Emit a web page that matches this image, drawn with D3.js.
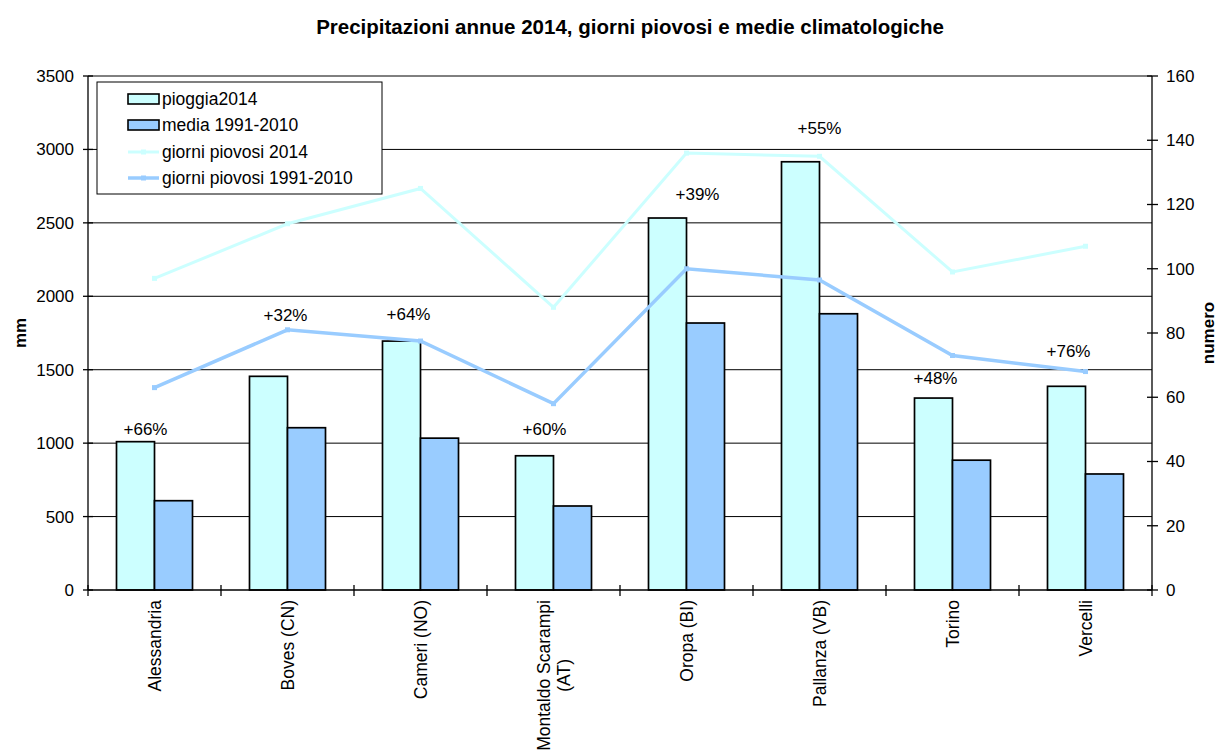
<!DOCTYPE html>
<html>
<head>
<meta charset="utf-8">
<script src="https://cdn.jsdelivr.net/npm/d3@7"></script>
<style>
  html, body { margin: 0; padding: 0; background: #fff; }
  svg { display: block; font-family: "Liberation Sans", Arial, sans-serif; }
</style>
</head>
<body>
<svg id="chart" width="1221" height="754"></svg>
<script>
// Stations and yearly values
const categories = ["Alessandria", "Boves (CN)", "Cameri (NO)", "Montaldo Scarampi (AT)",
                    "Oropa (BI)", "Pallanza (VB)", "Torino", "Vercelli"];
const rain2014 = [1010, 1455, 1695, 914, 2533, 2916, 1307, 1387];   // mm
const rainMean = [608, 1105, 1034, 572, 1818, 1881, 884, 790];      // mm, 1991-2010
const days2014 = [97, 114, 125, 88, 136, 135, 99, 107];             // rainy days 2014
const daysMean = [63, 81, 77.5, 58, 100, 96.5, 73, 68];             // rainy days 1991-2010

const mmTicks = [0, 500, 1000, 1500, 2000, 2500, 3000, 3500];
const dayTicks = [0, 20, 40, 60, 80, 100, 120, 140, 160];

const seriesNames = ["pioggia2014", "media 1991-2010", "giorni piovosi 2014", "giorni piovosi 1991-2010"];

const C_LIGHT = "#ccffff";
const C_DARK = "#99ccff";

const svg = d3.select("#chart");
const plot = { left: 88, right: 1152, top: 76, bottom: 590 };

const x = d3.scaleBand().domain(categories).range([plot.left, plot.right])
  .paddingInner(57 / 133).paddingOuter(57 / 266);
const xSub = d3.scaleBand().domain(["a", "b"]).range([0, x.bandwidth()]);
const yL = d3.scaleLinear().domain([0, 3500]).range([plot.bottom, plot.top]);
const yR = d3.scaleLinear().domain([0, 160]).range([plot.bottom, plot.top]);
const cx = c => x(c) + x.bandwidth() / 2;

// Title
svg.append("text").attr("x", 630).attr("y", 34).attr("text-anchor", "middle")
  .attr("font-weight", "bold").attr("font-size", 20.5)
  .text("Precipitazioni annue 2014, giorni piovosi e medie climatologiche");

// Gridlines
svg.append("g").selectAll("line").data(mmTicks.filter(d => d > 0)).join("line")
  .attr("x1", plot.left).attr("x2", plot.right)
  .attr("y1", d => yL(d)).attr("y2", d => yL(d))
  .attr("stroke", "#000").attr("stroke-width", 1);

// Bars
const barData = categories.flatMap((c, i) => [
  { c, k: "a", v: rain2014[i], fill: C_LIGHT },
  { c, k: "b", v: rainMean[i], fill: C_DARK }
]);
svg.append("g").selectAll("rect").data(barData).join("rect")
  .attr("x", d => x(d.c) + xSub(d.k))
  .attr("width", xSub.bandwidth())
  .attr("y", d => yL(d.v))
  .attr("height", d => yL(0) - yL(d.v))
  .attr("fill", d => d.fill)
  .attr("stroke", "#000").attr("stroke-width", 1.7);

// Left axis
const gL = svg.append("g").attr("transform", `translate(${plot.left},0)`);
gL.append("line").attr("y1", plot.top).attr("y2", plot.bottom).attr("stroke", "#000").attr("stroke-width", 1.3);
gL.selectAll(".t").data(mmTicks).join("line")
  .attr("x1", -5).attr("x2", 5).attr("y1", d => yL(d)).attr("y2", d => yL(d))
  .attr("stroke", "#000").attr("stroke-width", 1.3);
gL.selectAll("text").data(mmTicks).join("text")
  .attr("x", -14).attr("y", d => yL(d)).attr("dy", "0.35em")
  .attr("text-anchor", "end").attr("font-size", 17).text(d => d);

// Right axis
const gR = svg.append("g").attr("transform", `translate(${plot.right},0)`);
gR.append("line").attr("y1", plot.top).attr("y2", plot.bottom).attr("stroke", "#000").attr("stroke-width", 1.3);
gR.selectAll(".t").data(dayTicks).join("line")
  .attr("x1", -5).attr("x2", 6).attr("y1", d => yR(d)).attr("y2", d => yR(d))
  .attr("stroke", "#000").attr("stroke-width", 1.3);
gR.selectAll("text").data(dayTicks).join("text")
  .attr("x", 14).attr("y", d => yR(d)).attr("dy", "0.35em")
  .attr("text-anchor", "start").attr("font-size", 17).text(d => d);

// Category axis
const gB = svg.append("g");
gB.append("line").attr("x1", plot.left).attr("x2", plot.right)
  .attr("y1", plot.bottom).attr("y2", plot.bottom).attr("stroke", "#000").attr("stroke-width", 1.3);
const step = x.step();
gB.selectAll(".t").data(d3.range(categories.length + 1)).join("line")
  .attr("x1", i => plot.left + i * step).attr("x2", i => plot.left + i * step)
  .attr("y1", plot.bottom - 5).attr("y2", plot.bottom + 6)
  .attr("stroke", "#000").attr("stroke-width", 1.3);

// Rotated category labels, wrapped when too long
const catSize = 17.5;
function wrapWords(str, maxW, size) {
  const probe = svg.append("text").attr("font-size", size);
  const words = str.split(" ");
  const lines = [];
  let cur = "";
  for (const w of words) {
    const test = cur ? cur + " " + w : w;
    probe.text(test);
    if (probe.node().getComputedTextLength() > maxW && cur) { lines.push(cur); cur = w; }
    else cur = test;
  }
  lines.push(cur);
  const L = Math.max(...lines.map(l => { probe.text(l); return probe.node().getComputedTextLength(); }));
  probe.remove();
  return { lines, L };
}
const labelTop = 600;
const lh = 20;
categories.forEach(c => {
  const { lines, L } = wrapWords(c, 165, catSize);
  const g = svg.append("g").attr("transform", `translate(${cx(c)},${labelTop}) rotate(-90)`);
  lines.forEach((ln, i) => {
    g.append("text")
      .attr("x", -L / 2)
      .attr("y", (i - (lines.length - 1) / 2) * lh)
      .attr("dy", "0.35em")
      .attr("text-anchor", "middle")
      .attr("font-size", catSize)
      .text(ln);
  });
});

// Axis titles
svg.append("text").attr("transform", `translate(20,${(plot.top + plot.bottom) / 2}) rotate(-90)`)
  .attr("text-anchor", "middle").attr("dy", "0.35em")
  .attr("font-weight", "bold").attr("font-size", 17).text("mm");
svg.append("text").attr("transform", `translate(1208,${(plot.top + plot.bottom) / 2}) rotate(-90)`)
  .attr("text-anchor", "middle").attr("dy", "0.35em")
  .attr("font-weight", "bold").attr("font-size", 17).text("numero");

// Rainy-day lines with small square markers
function drawLine(vals, color, width) {
  const pts = categories.map((c, i) => [cx(c), yR(vals[i])]);
  svg.append("path").attr("d", d3.line()(pts))
    .attr("fill", "none").attr("stroke", color).attr("stroke-width", width)
    .attr("stroke-linejoin", "miter");
  svg.append("g").selectAll("rect").data(pts).join("rect")
    .attr("x", p => p[0] - 2.5).attr("y", p => p[1] - 2.5)
    .attr("width", 5).attr("height", 5).attr("fill", color);
}
drawLine(days2014, C_LIGHT, 3);
drawLine(daysMean, C_DARK, 3.5);

// Percentage increase labels over each station
const nudge = [[-9, -7], [-2, -55], [-12, -21], [-9, -21], [11, -18], [0, -28], [-17, -14], [-17, -29]];
categories.forEach((c, i) => {
  const pct = Math.round((rain2014[i] / rainMean[i] - 1) * 100);
  svg.append("text")
    .attr("x", cx(c) + nudge[i][0])
    .attr("y", yL(rain2014[i]) + nudge[i][1])
    .attr("text-anchor", "middle").attr("font-size", 17)
    .text((pct >= 0 ? "+" : "") + pct + "%");
});

// Legend
const lg = svg.append("g").attr("transform", "translate(97,82)");
lg.append("rect").attr("width", 285).attr("height", 112)
  .attr("fill", "#fff").attr("stroke", "#000").attr("stroke-width", 1);
const rowY = [17, 43, 70, 96];
seriesNames.forEach((name, i) => {
  const y = rowY[i];
  if (i < 2) {
    lg.append("rect").attr("x", 31).attr("y", y - 5).attr("width", 31).attr("height", 10)
      .attr("fill", i === 0 ? C_LIGHT : C_DARK).attr("stroke", "#000").attr("stroke-width", 1.6);
  } else {
    const col = i === 2 ? C_LIGHT : C_DARK;
    lg.append("line").attr("x1", 31).attr("x2", 62).attr("y1", y).attr("y2", y)
      .attr("stroke", col).attr("stroke-width", i === 2 ? 3 : 3.5);
    lg.append("rect").attr("x", 44).attr("y", y - 2.5).attr("width", 5).attr("height", 5).attr("fill", col);
  }
  lg.append("text").attr("x", 65).attr("y", y).attr("dy", "0.35em")
    .attr("font-size", 17.5).text(name);
});
</script>
</body>
</html>
